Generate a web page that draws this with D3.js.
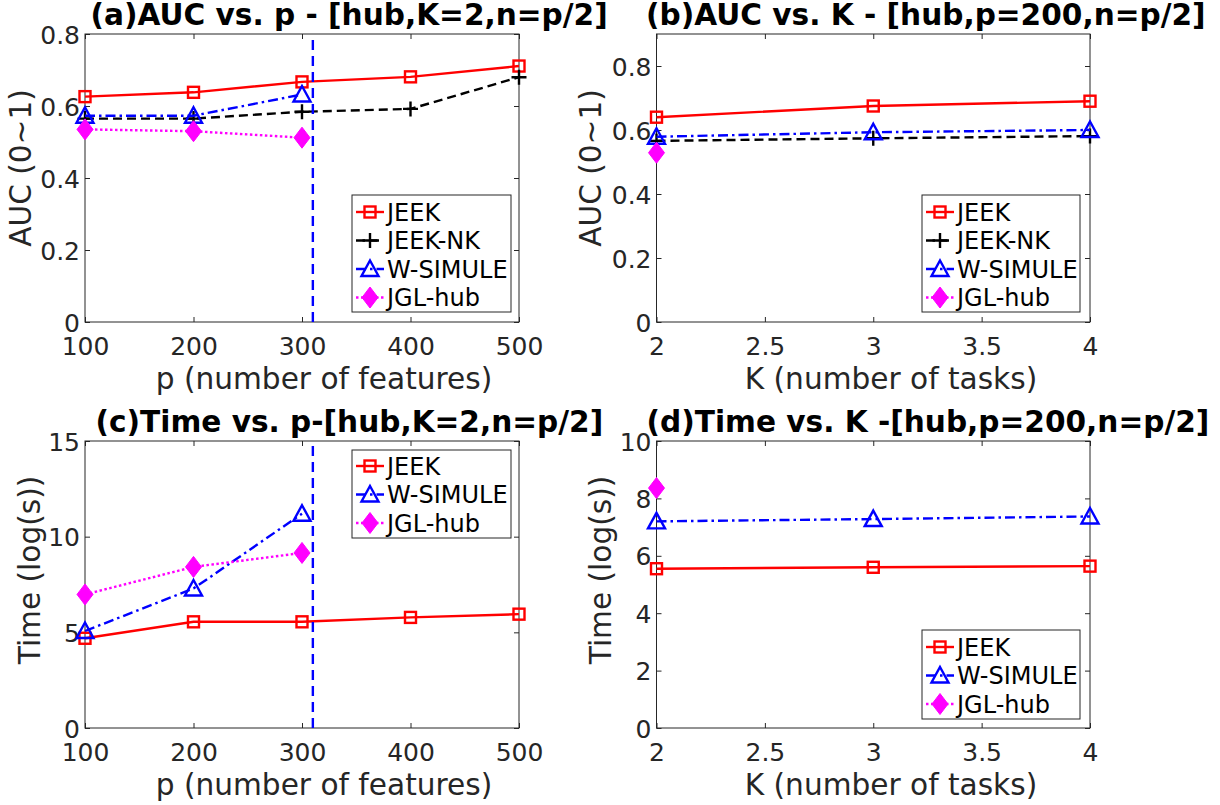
<!DOCTYPE html>
<html>
<head>
<meta charset="utf-8">
<script src="https://cdn.jsdelivr.net/npm/d3@7"></script>
<style>
  html, body { margin: 0; padding: 0; background: #fff; }
  svg { display: block; }
  text { font-family: "DejaVu Sans", sans-serif; }
</style>
</head>
<body>
<svg id="fig" width="1220" height="805"></svg>
<script>
// ---- data ----
const pValues = [100, 200, 300, 400, 500];
const kValues = [2, 3, 4];
const pTicks = [100, 200, 300, 400, 500];
const kTicks = [2, 2.5, 3, 3.5, 4];
const aucTicksA = [0, 0.2, 0.4, 0.6, 0.8];
const aucTicksB = [0, 0.2, 0.4, 0.6, 0.8];
const timeTicksC = [0, 5, 10, 15];
const timeTicksD = [0, 2, 4, 6, 8, 10];
const pThreshold = 310;

// (a) AUC vs p
const aucP_JEEK    = [0.626, 0.638, 0.667, 0.681, 0.711];
const aucP_JEEKNK  = [0.565, 0.565, 0.584, 0.592, 0.680];
const aucP_WSIMULE = [0.573, 0.573, 0.632];
const aucP_JGL     = [0.535, 0.530, 0.512];
// (b) AUC vs K
const aucK_JEEK    = [0.640, 0.675, 0.690];
const aucK_JEEKNK  = [0.566, 0.574, 0.581];
const aucK_WSIMULE = [0.579, 0.593, 0.600];
const aucK_JGL     = [0.529];
// (c) Time vs p
const timeP_JEEK    = [4.69, 5.55, 5.55, 5.78, 5.95];
const timeP_WSIMULE = [5.07, 7.29, 11.2];
const timeP_JGL     = [6.98, 8.42, 9.15];
// (d) Time vs K
const timeK_JEEK    = [5.55, 5.60, 5.64];
const timeK_WSIMULE = [7.20, 7.28, 7.37];
const timeK_JGL     = [8.36];

// ---- method styles ----
const styles = {
  "JEEK":     { color: "#ff0000", dash: null,       marker: "square" },
  "JEEK-NK":  { color: "#000000", dash: "9,5",      marker: "plus" },
  "W-SIMULE": { color: "#0000ff", dash: "10,4,2.5,4", marker: "triangle" },
  "JGL-hub":  { color: "#ff00ff", dash: "2.5,2.5",  marker: "diamond" }
};

const AX = "#262626";
const LW = 2.4;
const svg = d3.select("#fig");

function drawMarker(g, type, cx, cy, color) {
  if (type === "square") {
    g.append("rect").attr("x", cx - 5.5).attr("y", cy - 5.5).attr("width", 11).attr("height", 11)
      .attr("fill", "none").attr("stroke", color).attr("stroke-width", LW);
  } else if (type === "plus") {
    g.append("path").attr("d", `M${cx - 7.5},${cy}H${cx + 7.5}M${cx},${cy - 7.5}V${cy + 7.5}`)
      .attr("fill", "none").attr("stroke", color).attr("stroke-width", LW);
  } else if (type === "triangle") {
    g.append("path").attr("d", `M${cx},${cy - 8.5}L${cx + 8.5},${cy + 7}L${cx - 8.5},${cy + 7}Z`)
      .attr("fill", "none").attr("stroke", color).attr("stroke-width", LW);
  } else if (type === "diamond") {
    g.append("path").attr("d", `M${cx},${cy - 10.5}L${cx + 8},${cy}L${cx},${cy + 10.5}L${cx - 8},${cy}Z`)
      .attr("fill", color).attr("stroke", color).attr("stroke-width", 1);
  }
}

function panel(cfg) {
  const x = d3.scaleLinear().domain(cfg.xDomain).range([cfg.left, cfg.right]);
  const y = d3.scaleLinear().domain(cfg.yDomain).range([cfg.bottom, cfg.top]);
  const g = svg.append("g");

  // frame with inward ticks on all sides
  const bottomAxis = d3.axisBottom(x).tickValues(cfg.xTicks).tickSizeInner(-5).tickSizeOuter(0).tickFormat(cfg.xFmt).tickPadding(15);
  const topAxis = d3.axisTop(x).tickValues(cfg.xTicks).tickSizeInner(-5).tickSizeOuter(0).tickFormat("");
  const leftAxis = d3.axisLeft(y).tickValues(cfg.yTicks).tickSizeInner(-5).tickSizeOuter(0).tickFormat(cfg.yFmt).tickPadding(5);
  const rightAxis = d3.axisRight(y).tickValues(cfg.yTicks).tickSizeInner(-5).tickSizeOuter(0).tickFormat("");

  const gb = g.append("g").attr("transform", `translate(0,${cfg.bottom})`).call(bottomAxis);
  const gt = g.append("g").attr("transform", `translate(0,${cfg.top})`).call(topAxis);
  const gl = g.append("g").attr("transform", `translate(${cfg.left},0)`).call(leftAxis);
  const gr = g.append("g").attr("transform", `translate(${cfg.right},0)`).call(rightAxis);
  [gb, gt, gl, gr].forEach(a => {
    a.selectAll("path.domain").remove();
    a.selectAll("line").attr("stroke", AX).attr("stroke-width", 1);
    a.selectAll("text").attr("fill", AX).attr("font-size", 25)
      .attr("font-family", "DejaVu Sans, sans-serif");
  });
  gb.selectAll("text").attr("dy", "0.71em");
  gl.selectAll("text").attr("dy", "0.36em");
  g.append("rect").attr("x", cfg.left).attr("y", cfg.top)
    .attr("width", cfg.right - cfg.left).attr("height", cfg.bottom - cfg.top)
    .attr("fill", "none").attr("stroke", AX).attr("stroke-width", 1);

  // series
  const plot = g.append("g");
  cfg.series.forEach(s => {
    const st = styles[s.name];
    const pts = s.values.map((v, i) => [x(cfg.xValues[i]), y(v)]);
    if (pts.length > 1) {
      plot.append("path").attr("d", d3.line()(pts))
        .attr("fill", "none").attr("stroke", st.color).attr("stroke-width", LW)
        .attr("stroke-dasharray", st.dash);
    }
    pts.forEach(p => drawMarker(plot, st.marker, p[0], p[1], st.color));
  });

  // threshold line
  if (cfg.threshold != null) {
    g.append("line").attr("x1", x(cfg.threshold)).attr("x2", x(cfg.threshold))
      .attr("y1", y(cfg.yDomain[0])).attr("y2", y(cfg.yDomain[1]))
      .attr("stroke", "#0000ff").attr("stroke-width", LW).attr("stroke-dasharray", "10,6");
  }

  // title and axis labels
  g.append("text").attr("x", cfg.titleX).attr("y", cfg.titleY)
    .attr("font-weight", "bold").attr("font-size", 29.6).attr("fill", "#000").text(cfg.title);
  g.append("text").attr("x", cfg.xLabelX).attr("y", cfg.xLabelY).attr("text-anchor", "middle")
    .attr("font-size", 29.6).attr("fill", AX).text(cfg.xLabel);
  g.append("text").attr("transform", `translate(${cfg.yLabelX},${cfg.yLabelY}) rotate(-90)`)
    .attr("text-anchor", "middle").attr("font-size", 29.6).attr("fill", AX).text(cfg.yLabel);

  // legend
  const L = cfg.legend;
  const lg = g.append("g");
  lg.append("rect").attr("x", L.x0).attr("y", L.y0).attr("width", L.x1 - L.x0).attr("height", L.y1 - L.y0)
    .attr("fill", "#fff").attr("stroke", AX).attr("stroke-width", 1);
  L.names.forEach((name, i) => {
    const st = styles[name];
    const cy = L.rows[i];
    lg.append("line").attr("x1", L.x0 + 4).attr("x2", L.x0 + 32).attr("y1", cy).attr("y2", cy)
      .attr("stroke", st.color).attr("stroke-width", LW).attr("stroke-dasharray", st.dash);
    drawMarker(lg, st.marker, L.x0 + 18, cy, st.color);
    lg.append("text").attr("x", L.x0 + 35).attr("y", cy).attr("dy", "0.36em")
      .attr("font-size", 24).attr("fill", "#000").text(name);
  });
}

const aucFmt = d => d === 0 ? "0" : d3.format(".1f")(d);
const intFmt = d => String(d);

panel({
  left: 85, right: 519, top: 34, bottom: 322,
  xDomain: [100, 500], yDomain: [0, 0.8], xTicks: pTicks, yTicks: aucTicksA,
  xFmt: intFmt, yFmt: aucFmt, xValues: pValues, threshold: pThreshold,
  series: [
    { name: "JEEK", values: aucP_JEEK },
    { name: "JEEK-NK", values: aucP_JEEKNK },
    { name: "W-SIMULE", values: aucP_WSIMULE },
    { name: "JGL-hub", values: aucP_JGL }
  ],
  title: "(a)AUC vs. p - [hub,K=2,n=p/2]", titleX: 90.5, titleY: 25,
  xLabel: "p (number of features)", xLabelX: 324, xLabelY: 389,
  yLabel: "AUC (0~1)", yLabelX: 31, yLabelY: 168,
  legend: { x0: 352, x1: 511, y0: 195, y1: 312, rows: [212, 240.5, 269, 297.5],
            names: ["JEEK", "JEEK-NK", "W-SIMULE", "JGL-hub"] }
});

panel({
  left: 656.5, right: 1090, top: 34, bottom: 322,
  xDomain: [2, 4], yDomain: [0, 0.9], xTicks: kTicks, yTicks: aucTicksB,
  xFmt: intFmt, yFmt: aucFmt, xValues: kValues, threshold: null,
  series: [
    { name: "JEEK", values: aucK_JEEK },
    { name: "JEEK-NK", values: aucK_JEEKNK },
    { name: "W-SIMULE", values: aucK_WSIMULE },
    { name: "JGL-hub", values: aucK_JGL }
  ],
  title: "(b)AUC vs. K - [hub,p=200,n=p/2]", titleX: 646, titleY: 25,
  xLabel: "K (number of tasks)", xLabelX: 891, xLabelY: 389,
  yLabel: "AUC (0~1)", yLabelX: 601, yLabelY: 168,
  legend: { x0: 922, x1: 1080, y0: 195, y1: 312, rows: [212, 240.5, 269, 297.5],
            names: ["JEEK", "JEEK-NK", "W-SIMULE", "JGL-hub"] }
});

panel({
  left: 85, right: 519, top: 441, bottom: 728,
  xDomain: [100, 500], yDomain: [0, 15], xTicks: pTicks, yTicks: timeTicksC,
  xFmt: intFmt, yFmt: intFmt, xValues: pValues, threshold: pThreshold,
  series: [
    { name: "JEEK", values: timeP_JEEK },
    { name: "W-SIMULE", values: timeP_WSIMULE },
    { name: "JGL-hub", values: timeP_JGL }
  ],
  title: "(c)Time vs. p-[hub,K=2,n=p/2]", titleX: 95.5, titleY: 432,
  xLabel: "p (number of features)", xLabelX: 324, xLabelY: 795,
  yLabel: "Time (log(s))", yLabelX: 40, yLabelY: 570,
  legend: { x0: 352, x1: 511, y0: 450, y1: 538, rows: [466, 494.5, 523],
            names: ["JEEK", "W-SIMULE", "JGL-hub"] }
});

panel({
  left: 656.5, right: 1090, top: 441, bottom: 728,
  xDomain: [2, 4], yDomain: [0, 10], xTicks: kTicks, yTicks: timeTicksD,
  xFmt: intFmt, yFmt: intFmt, xValues: kValues, threshold: null,
  series: [
    { name: "JEEK", values: timeK_JEEK },
    { name: "W-SIMULE", values: timeK_WSIMULE },
    { name: "JGL-hub", values: timeK_JGL }
  ],
  title: "(d)Time vs. K -[hub,p=200,n=p/2]", titleX: 646.5, titleY: 432,
  xLabel: "K (number of tasks)", xLabelX: 891, xLabelY: 795,
  yLabel: "Time (log(s))", yLabelX: 611, yLabelY: 570,
  legend: { x0: 922, x1: 1080, y0: 630, y1: 719, rows: [647, 675.5, 704],
            names: ["JEEK", "W-SIMULE", "JGL-hub"] }
});
</script>
</body>
</html>
